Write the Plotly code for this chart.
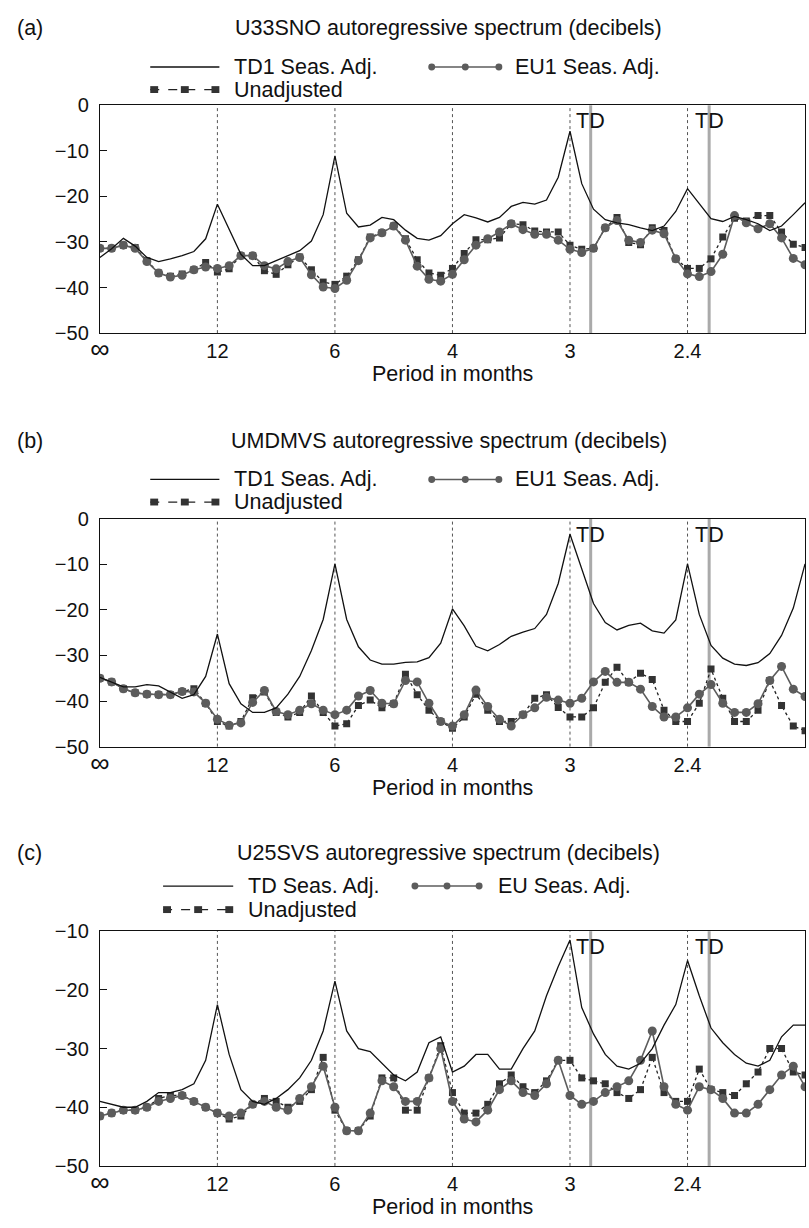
import plotly.graph_objects as go

W, H = 809, 1228

# frequency grid (cycles/month), 61 ordinates from 0 to 0.5
freq = [i / 120 for i in range(61)]
x_tickvals = [0, 1/12, 2/12, 3/12, 4/12, 5/12, 6/12]
x_ticktext = ["<span style='font-size:27px'>∞</span>", "12", "6", "4", "3", "2.4", "2"]
seasonal_freqs = [1/12, 2/12, 3/12, 4/12, 5/12]
td_freqs = [0.348, 0.432]

titles = ["U33SNO autoregressive spectrum (decibels)",
          "UMDMVS autoregressive spectrum (decibels)",
          "U25SVS autoregressive spectrum (decibels)"]
panel_labels = ["(a)", "(b)", "(c)"]
legend_td = ["TD1 Seas. Adj.", "TD1 Seas. Adj.", "TD Seas. Adj."]
legend_eu = ["EU1 Seas. Adj.", "EU1 Seas. Adj.", "EU Seas. Adj."]
legend_un = "Unadjusted"
x_title = "Period in months"

# ---- panel (a) U33SNO ----
a_td = [-33.4, -31.5, -29.2, -30.9, -33.4, -34.3, -33.7, -33.0, -32.1, -29.3,
        -21.7, -27.1, -32.7, -35.2, -35.2, -34.1, -33.0, -31.9, -29.8, -24.0,
        -11.1, -23.7, -26.7, -26.3, -24.6, -25.1, -27.4, -29.2, -29.6, -28.6,
        -26.0, -24.0, -24.7, -25.6, -24.6, -22.2, -21.3, -21.7, -20.8, -15.8,
        -5.7, -17.2, -22.8, -25.1, -25.8, -26.2, -26.9, -27.5, -26.5, -23.3,
        -18.3, -21.5, -24.9, -25.5, -24.4, -25.1, -26.0, -27.5, -26.5, -24.0,
        -21.4]
a_eu = [-31.4, -31.4, -30.7, -31.4, -34.3, -36.8, -37.7, -37.3, -36.1, -35.5,
        -35.8, -35.2, -33.0, -33.0, -35.2, -35.9, -34.3, -33.4, -37.2, -39.9,
        -40.2, -38.4, -34.1, -29.1, -28.0, -26.5, -29.6, -35.3, -38.2, -38.6,
        -37.1, -33.9, -30.7, -29.3, -27.8, -26.0, -27.3, -28.3, -28.3, -29.6,
        -31.6, -32.3, -31.4, -26.9, -25.3, -29.6, -30.1, -27.4, -28.2, -33.7,
        -37.0, -37.6, -36.5, -32.7, -24.2, -25.8, -27.1, -26.0, -29.1, -33.6,
        -35.0]
a_un = [-31.4, -31.4, -30.7, -31.2, -34.1, -36.8, -37.5, -37.0, -36.1, -34.5,
        -36.6, -35.9, -33.0, -33.0, -36.3, -37.1, -35.0, -33.3, -36.1, -38.8,
        -39.3, -37.5, -33.9, -28.9, -28.0, -26.5, -29.3, -33.9, -36.8, -37.3,
        -35.8, -32.5, -29.5, -29.5, -29.1, -26.0, -26.2, -27.6, -27.8, -27.8,
        -30.7, -31.6, -31.4, -26.9, -24.6, -30.1, -30.6, -26.9, -27.5, -33.7,
        -35.8, -35.8, -33.7, -28.9, -24.8, -25.4, -24.2, -24.2, -27.8, -30.5,
        -31.2]

# ---- panel (b) UMDMVS ----
b_td = [-34.8, -35.8, -36.9, -36.9, -36.4, -36.7, -38.1, -39.4, -38.6, -34.6,
        -25.3, -36.2, -40.6, -42.5, -42.5, -41.5, -38.5, -34.6, -28.9, -22.1,
        -9.9, -22.1, -28.1, -31.0, -31.9, -31.9, -31.5, -31.4, -30.5, -27.3,
        -19.8, -23.5, -28.0, -29.0, -27.6, -25.8, -24.9, -24.1, -21.0, -14.2,
        -3.4, -11.2, -18.6, -22.8, -24.4, -23.4, -22.9, -24.6, -25.1, -22.2,
        -9.9, -21.0, -27.8, -30.6, -31.9, -32.2, -31.6, -29.6, -25.6, -19.6,
        -9.9]
b_eu = [-35.0, -35.8, -37.3, -38.2, -38.5, -38.6, -38.6, -37.9, -38.0, -40.5,
        -44.0, -45.3, -44.8, -40.3, -37.7, -42.3, -43.0, -42.0, -40.6, -42.0,
        -43.0, -42.0, -38.9, -37.7, -40.5, -40.6, -35.5, -35.8, -40.5, -44.5,
        -45.5, -43.0, -37.6, -41.2, -44.0, -45.5, -43.0, -41.5, -39.2, -39.8,
        -40.5, -39.4, -35.8, -33.5, -35.9, -35.9, -37.4, -41.2, -43.5, -43.5,
        -41.5, -38.5, -36.4, -40.5, -42.5, -42.5, -40.6, -35.5, -32.4, -37.4,
        -39.0]
b_un = [-35.0, -35.8, -37.3, -38.2, -38.5, -38.6, -38.6, -37.9, -37.3, -40.5,
        -44.5, -45.5, -44.5, -39.3, -38.0, -42.5, -43.5, -42.5, -38.9, -42.5,
        -45.5, -45.0, -41.0, -39.8, -41.5, -40.6, -34.1, -38.6, -42.0, -44.5,
        -46.0, -43.5, -38.5, -42.0, -44.5, -44.5, -43.0, -39.4, -38.6, -41.4,
        -43.5, -43.5, -41.5, -35.9, -32.6, -35.9, -33.9, -35.3, -42.0, -44.5,
        -44.5, -40.5, -33.0, -39.4, -44.5, -44.5, -42.0, -35.5, -41.0, -45.5,
        -46.5]

# ---- panel (c) U25SVS ----
c_td = [-39.0, -39.5, -40.0, -40.0, -39.0, -37.5, -37.5, -37.0, -36.0, -32.0,
        -22.5, -31.0, -37.0, -39.0, -39.5, -38.5, -37.0, -35.0, -32.0, -27.0,
        -18.5, -27.0, -30.0, -30.5, -32.5, -34.5, -35.5, -34.0, -29.0, -28.0,
        -34.0, -33.0, -31.0, -31.0, -33.5, -33.5, -30.0, -27.0, -21.0, -16.0,
        -11.5, -23.0, -27.5, -31.0, -33.0, -33.5, -32.5, -30.0, -26.0, -22.5,
        -15.0, -21.0, -26.5, -29.0, -31.0, -32.5, -33.0, -32.0, -28.0, -26.0,
        -26.0]
c_eu = [-41.5, -41.0, -40.5, -40.5, -40.0, -39.0, -38.5, -38.0, -39.0, -40.0,
        -41.0, -41.5, -41.0, -39.5, -39.0, -40.0, -40.5, -38.5, -36.5, -33.0,
        -40.0, -44.0, -44.0, -41.0, -35.5, -36.5, -39.0, -39.0, -35.0, -30.0,
        -39.0, -42.0, -42.5, -40.5, -37.0, -35.5, -37.5, -38.0, -36.0, -32.0,
        -38.0, -39.5, -39.0, -37.5, -36.5, -35.5, -32.0, -27.0, -36.5, -39.5,
        -40.5, -36.5, -37.0, -38.5, -41.0, -41.0, -39.5, -37.0, -34.5, -33.0,
        -36.5]
c_un = [-41.5, -41.0, -40.5, -40.5, -40.0, -38.5, -38.0, -38.0, -39.0, -40.0,
        -41.0, -42.0, -41.5, -39.5, -38.5, -39.0, -40.0, -39.0, -37.0, -31.5,
        -40.5, -44.0, -44.0, -41.5, -35.0, -35.0, -40.5, -40.5, -35.0, -29.5,
        -37.5, -41.0, -41.0, -39.5, -36.0, -34.5, -36.5, -37.5, -35.5, -32.0,
        -32.0, -35.0, -35.5, -36.0, -37.5, -38.5, -37.0, -31.5, -37.5, -39.0,
        -39.0, -33.5, -37.0, -37.5, -38.0, -36.0, -34.0, -30.0, -30.0, -34.0,
        -34.5]

panels = [(a_td, a_eu, a_un), (b_td, b_eu, b_un), (c_td, c_eu, c_un)]
y_ranges = [[-50, 0], [-50, 0], [-50, -10]]
y_ticks = [[0, -10, -20, -30, -40, -50], [0, -10, -20, -30, -40, -50],
           [-10, -20, -30, -40, -50]]

# ---- layout geometry (pixels) ----
PX_L, PX_R = 91, 805
tops = [96, 517, 937]
bots = [328, 749, 1176]
title_y = [17, 438, 857]
row1_y = [57, 477, 891]
row2_y = [80, 500, 915]
FONT = "Liberation Sans, Arial, sans-serif"
FS = 21.5
FS_TICK = 20


def px(xp):
    return xp / W


def py(yp):
    return 1 - yp / H


fig = go.Figure()
layout = dict(width=W, height=H, margin=dict(l=0, r=0, t=0, b=0),
              paper_bgcolor="white", plot_bgcolor="white",
              showlegend=False, font=dict(family=FONT, size=FS, color="#111"))
shapes = []
annotations = []

for i, (td, eu, un) in enumerate(panels):
    n = "" if i == 0 else str(i + 1)
    xa, ya = "x" + n, "y" + n
    fig.add_trace(go.Scatter(x=freq, y=un, xaxis=xa, yaxis=ya, mode="lines+markers",
                             line=dict(color="#222", width=1.3, dash="dot"),
                             marker=dict(symbol="square", size=7, color="#333")))
    fig.add_trace(go.Scatter(x=freq, y=eu, xaxis=xa, yaxis=ya, mode="lines+markers",
                             line=dict(color="#5c5c5c", width=1.6),
                             marker=dict(symbol="circle", size=9, color="#5c5c5c")))
    fig.add_trace(go.Scatter(x=freq, y=td, xaxis=xa, yaxis=ya, mode="lines",
                             line=dict(color="#111", width=1.3)))

    ax = dict(domain=[px(PX_L), px(PX_R)], range=[0, 0.5], anchor=ya,
              tickvals=x_tickvals, ticktext=x_ticktext, showgrid=False, zeroline=False,
              showline=True, mirror=True, linecolor="#111", linewidth=1.2, ticks="",
              tickfont=dict(size=FS_TICK, family=FONT, color="#111"))
    ay = dict(domain=[py(bots[i]), py(tops[i])], range=y_ranges[i], anchor=xa,
              tickvals=y_ticks[i], ticktext=[str(v).replace("-", "−") for v in y_ticks[i]],
              showgrid=False, zeroline=False, showline=True, mirror=True,
              linecolor="#111", linewidth=1.2, ticks="inside", ticklen=7,
              tickcolor="#111", ticklabelstandoff=6,
              tickfont=dict(size=FS_TICK, family=FONT, color="#111"))
    layout["xaxis" + n] = ax
    layout["yaxis" + n] = ay

    xref, ydref = xa, ya + " domain"
    for f in seasonal_freqs:
        shapes.append(dict(type="line", xref=xref, yref=ydref, x0=f, x1=f, y0=0, y1=1,
                           line=dict(color="#555", width=1, dash="dot"), layer="below"))
    for f in td_freqs:
        shapes.append(dict(type="line", xref=xref, yref=ydref, x0=f, x1=f, y0=0, y1=1,
                           line=dict(color="#aaaaaa", width=3), layer="below"))
        annotations.append(dict(xref=xref, yref=ydref, x=f, y=1, yanchor="top", yshift=-2,
                                text="TD", showarrow=False, font=dict(size=FS)))

    # panel label and title
    annotations.append(dict(xref="paper", yref="paper", x=px(5), y=py(title_y[i]),
                            xanchor="left", yanchor="middle", text=panel_labels[i],
                            showarrow=False))
    annotations.append(dict(xref="paper", yref="paper", x=px(444), y=py(title_y[i]),
                            xanchor="center", yanchor="middle", text=titles[i],
                            showarrow=False))
    annotations.append(dict(xref="paper", yref="paper", x=px(448), y=py(bots[i] + 42),
                            xanchor="center", yanchor="middle", text=x_title,
                            showarrow=False))

    # manual legend
    if i < 2:
        s0, s1, t1 = 142, 212, 226
        e0, e1, t2 = 425, 497, 510
    else:
        s0, s1, t1 = 155, 226, 240
        e0, e1, t2 = 408, 477, 493
    r1 = row1_y[i]
    r2 = row2_y[i]
    shapes.append(dict(type="line", xref="paper", yref="paper", x0=px(s0), x1=px(s1),
                       y0=py(r1), y1=py(r1), line=dict(color="#111", width=1.3)))
    annotations.append(dict(xref="paper", yref="paper", x=px(t1), y=py(r1),
                            xanchor="left", yanchor="middle", text=legend_td[i],
                            showarrow=False, borderpad=0))
    shapes.append(dict(type="line", xref="paper", yref="paper", x0=px(e0), x1=px(e1),
                       y0=py(r1), y1=py(r1), line=dict(color="#5c5c5c", width=1.6)))
    for cx in (e0 + 2, (e0 + e1) / 2, e1 - 2):
        shapes.append(dict(type="circle", xref="paper", yref="paper",
                           x0=px(cx - 3.5), x1=px(cx + 3.5), y0=py(r1 + 3.5), y1=py(r1 - 3.5),
                           fillcolor="#5c5c5c", line=dict(color="#5c5c5c", width=0)))
    annotations.append(dict(xref="paper", yref="paper", x=px(t2), y=py(r1),
                            xanchor="left", yanchor="middle", text=legend_eu[i],
                            showarrow=False, borderpad=0))
    shapes.append(dict(type="line", xref="paper", yref="paper", x0=px(s0), x1=px(s1),
                       y0=py(r2), y1=py(r2), line=dict(color="#222", width=1.3, dash="dash")))
    for cx in (s0 + 4, (s0 + s1) / 2, s1 - 4):
        shapes.append(dict(type="rect", xref="paper", yref="paper",
                           x0=px(cx - 4), x1=px(cx + 4), y0=py(r2 + 3.5), y1=py(r2 - 3.5),
                           fillcolor="#333", line=dict(color="#333", width=0)))
    annotations.append(dict(xref="paper", yref="paper", x=px(t1), y=py(r2),
                            xanchor="left", yanchor="middle", text=legend_un,
                            showarrow=False, borderpad=0))

layout["shapes"] = shapes
layout["annotations"] = annotations
fig.update_layout(**layout)
fig.write_html("out.html", config={"displayModeBar": False},
               post_script="document.body.style.margin='0';")
